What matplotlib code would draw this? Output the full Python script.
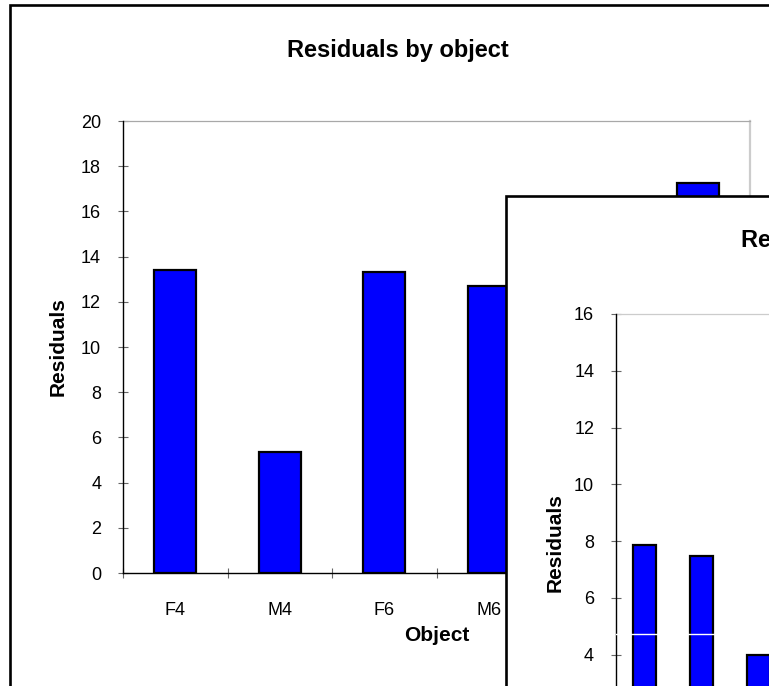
import numpy as np
import matplotlib
matplotlib.use('Agg')
import matplotlib.pyplot as plt
from matplotlib.patches import Rectangle

plt.rcParams['font.family'] = ['Liberation Sans', 'DejaVu Sans']

# main chart data
objects = ['F4', 'M4', 'F6', 'M6', 'F8', 'M8']
residuals = [13.4, 5.35, 13.3, 12.7, 10.0, 17.25]   # F8 is hidden behind the second chart
y_ticks = [0, 2, 4, 6, 8, 10, 12, 14, 16, 18, 20]

# second chart (the window lying on top), only the first bars are visible
objects2 = ['F4', 'M4', 'F6']
residuals2 = [7.86, 7.48, 3.98]
y_ticks2 = [0, 2, 4, 6, 8, 10, 12, 14, 16]
ref_line2 = 4.74

W, H = 769, 686
fig = plt.figure(figsize=(W / 100, H / 100), dpi=100)
fig.patch.set_facecolor('white')


def box(x0, y0, x1, y1):
    # pixel box (top-left origin) -> figure rect
    return [x0 / W, 1 - y1 / H, (x1 - x0) / W, (y1 - y0) / H]


def style_axes(ax, cats, ticks, ylim):
    x = np.arange(len(cats))
    ax.set_ylim(*ylim)
    ax.set_yticks(ticks)
    ax.set_xticks(np.arange(-0.5, len(cats)), labels=[''] * len(cats + ['']) if False else None)
    ax.set_xticks(x, cats, minor=True)
    ax.tick_params(axis='x', which='major', labelbottom=False)
    ax.tick_params(axis='x', which='minor', length=0, pad=21, labelsize=13)
    ax.tick_params(axis='both', which='major', direction='inout', length=7.5,
                   width=0.8, color='#666666', labelsize=13)
    ax.tick_params(axis='y', pad=12)
    for s in ['left', 'bottom']:
        ax.spines[s].set_color('black')
        ax.spines[s].set_linewidth(1.0)
    ax.spines['top'].set_color('#a8a8a8')
    ax.spines['top'].set_linewidth(0.9)
    ax.spines['right'].set_color('#cccccc')
    ax.spines['right'].set_linewidth(1.6)
    ax.spines['left'].set_zorder(2.6)
    ax.spines['bottom'].set_zorder(2.6)


# outer frame of the main chart
fig.add_artist(Rectangle((10 / W, 1 - 1000 / H), 1000 / W, (1000 - 5) / H,
                         transform=fig.transFigure, facecolor='white',
                         edgecolor='black', linewidth=1.9, zorder=-1))

ax = fig.add_axes(box(123, 121, 750, 573), zorder=0)
ax.bar(np.arange(len(objects)), residuals, width=0.4, color='#0000ff',
       edgecolor='black', linewidth=1.6, zorder=2)
ax.set_xlim(-0.5, len(objects) - 0.5)
style_axes(ax, objects, y_ticks, (0, 20))
ax.set_ylabel('Residuals', fontsize=15, fontweight='bold', va='center')
ax.yaxis.set_label_coords((58.5 - 123) / 627, 0.5)
ax.set_xlabel('Object', fontsize=15, fontweight='bold', va='baseline')
ax.xaxis.set_label_coords(0.5, -(641 - 573) / 452)
ax.text((398 - 123) / 627, 1 + (121 - 56.7) / 452, 'Residuals by object',
        transform=ax.transAxes, ha='center', va='baseline',
        fontsize=17, fontweight='bold', clip_on=False)

# second chart window on top
fig.add_artist(Rectangle((506 / W, 1 - 1000 / H), 1000 / W, (1000 - 196) / H,
                         transform=fig.transFigure, facecolor='white',
                         edgecolor='black', linewidth=1.9, zorder=1))

n2 = 10
ax2 = fig.add_axes(box(616, 314, 616 + 57 * n2, 768), zorder=2)
ax2.bar(np.arange(len(objects2)), residuals2, width=0.42, color='#0000ff',
        edgecolor='black', linewidth=1.6, zorder=2)
ax2.axhline(ref_line2, color='white', linewidth=1.0, zorder=3)
ax2.set_xlim(-0.5, n2 - 0.5)
style_axes(ax2, objects2, y_ticks2, (0, 16))
ax2.spines['top'].set_color('#cccccc')
ax2.set_ylabel('Residuals', fontsize=15, fontweight='bold', va='center')
ax2.yaxis.set_label_coords((555 - 616) / (57 * n2), (768 - 542.5) / 454)
ax2.text(741, H - 247, 'Residuals by object', transform=None,
         ha='left', va='baseline', fontsize=17, fontweight='bold')

fig.savefig('out.png', dpi=100)
